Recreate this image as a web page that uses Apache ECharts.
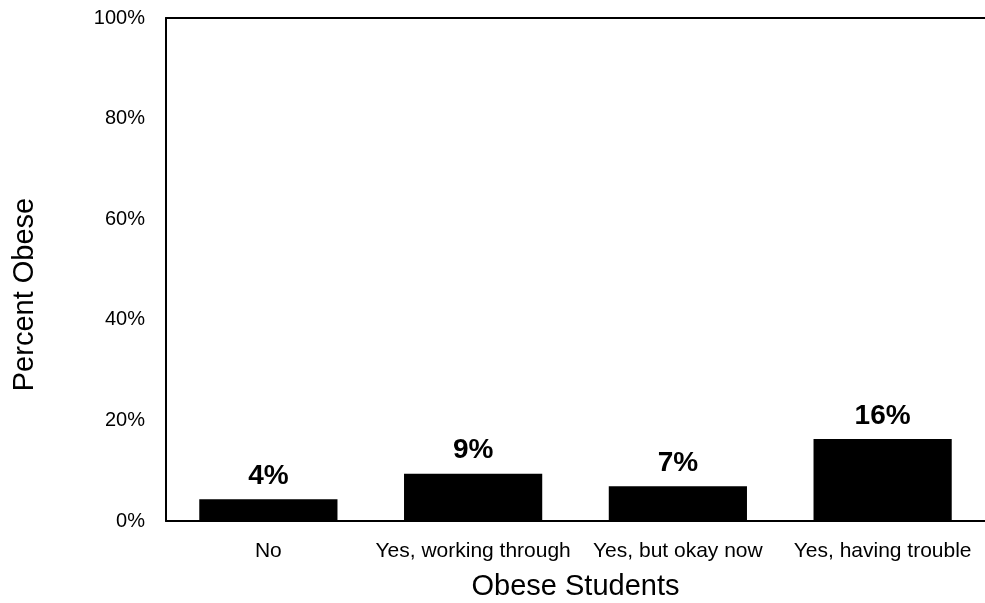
<!DOCTYPE html>
<html>
<head>
<meta charset="utf-8">
<script src="https://cdn.jsdelivr.net/npm/echarts@6/dist/echarts.min.js"></script>
<style>html,body{margin:0;padding:0;background:#fff}#c{width:985px;height:603px}</style>
</head>
<body>
<div id="c"></div>
<script>
var categories = ["No", "Yes, working through", "Yes, but okay now", "Yes, having trouble"];
var values = [4.3, 9.4, 6.9, 16.3];
var yTicks = [0, 20, 40, 60, 80, 100];

var chart = echarts.init(document.getElementById('c'), null, {renderer: 'canvas'});
var font = 'Liberation Sans, Arial, sans-serif';
chart.setOption({
  animation: false,
  grid: {left: 166, right: 0, top: 18, bottom: 82, containLabel: false, outerBoundsMode: 'none'},
  xAxis: [{
    type: 'category', data: categories,
    axisLine: {show: true, lineStyle: {color: '#000', width: 2}},
    axisTick: {show: false},
    axisLabel: {color: '#000', fontSize: 21, fontFamily: font, margin: 20, interval: 0},
    name: 'Obese Students', nameLocation: 'middle', nameGap: 51,
    nameTextStyle: {color: '#000', fontSize: 29, fontFamily: font}
  }, {
    type: 'category', data: categories, position: 'top',
    axisLine: {show: true, lineStyle: {color: '#000', width: 2}},
    axisTick: {show: false},
    axisLabel: {show: false}
  }],
  yAxis: {
    type: 'value', min: 0, max: 100, interval: 20,
    axisLine: {show: true, lineStyle: {color: '#000', width: 2}},
    axisTick: {show: false},
    splitLine: {show: false},
    axisLabel: {color: '#000', fontSize: 20, fontFamily: font, margin: 21,
      formatter: function (v) { return yTicks.indexOf(v) >= 0 ? v + '%' : ''; }},
    name: 'Percent Obese', nameLocation: 'middle', nameGap: 127,
    nameTextStyle: {color: '#000', fontSize: 29, fontFamily: font, padding: [0, 50, 0, 0]}
  },
  series: [{
    type: 'bar', data: values, barWidth: '67.5%',
    itemStyle: {color: '#000'},
    label: {show: true, position: 'top', distance: 9, color: '#000', fontSize: 28, fontWeight: 'bold', fontFamily: font,
      formatter: function (p) { return Math.round(p.value) + '%'; }}
  }]
});
</script>
</body>
</html>
